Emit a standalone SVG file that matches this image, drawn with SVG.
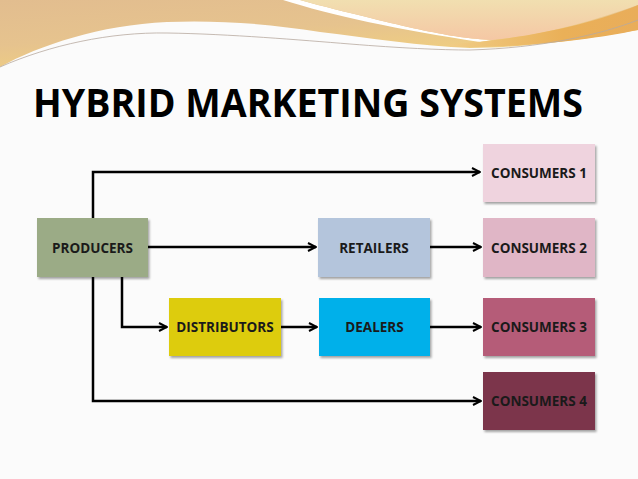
<svg xmlns="http://www.w3.org/2000/svg" width="638" height="479" viewBox="0 0 638 479">
<defs>
<linearGradient id="gL" x1="0" y1="0" x2="0.6" y2="1">
<stop offset="0" stop-color="#e2bd8f"/>
<stop offset="0.5" stop-color="#e6c38e"/>
<stop offset="1" stop-color="#f3d27c"/>
</linearGradient>
<linearGradient id="gR" x1="0" y1="0" x2="0" y2="1">
<stop offset="0" stop-color="#f1dfb0"/>
<stop offset="1" stop-color="#f5c7a4"/>
</linearGradient>
<linearGradient id="gO" x1="0" y1="0" x2="1" y2="0">
<stop offset="0" stop-color="#f0cc85"/>
<stop offset="0.6" stop-color="#eab058"/>
<stop offset="1" stop-color="#e9ad5a"/>
</linearGradient>
<marker id="arr" viewBox="0 0 10 10" refX="9" refY="5" markerWidth="10" markerHeight="10" markerUnits="userSpaceOnUse" orient="auto">
<path d="M1,1 L9,5 L1,9" fill="none" stroke="#000" stroke-width="2"/>
</marker>
<filter id="sh" x="-10%" y="-10%" width="125%" height="130%">
<feDropShadow dx="1.5" dy="2" stdDeviation="1.2" flood-color="#000" flood-opacity="0.35"/>
</filter>
</defs>
<style>
.box{filter:url(#sh)}
.lbl{font-family:"Open Sans","Liberation Sans",Arial,sans-serif;font-weight:bold;font-size:13.5px;fill:#1a1a1a;text-anchor:middle;dominant-baseline:central}
.con{fill:none;stroke:#000;stroke-width:2.5}
</style>
<rect width="638" height="479" fill="#fbfbfb"/>
<g id="background">
<path d="M0,0 H638 V30 C580,40 520,48 470,48 C420,46 370,38 320,32 C270,24 220,20 167,22 C100,25 40,45 0,67 Z" fill="url(#gL)"/>
<path d="M283,0 C330,15 400,30 480,42 L492,40 C450,38 410,28 318,5 L300,0 Z" fill="#ffffff"/>
<path d="M300,0 H638 V5 C590,22 540,36 492,40 C450,38 410,28 318,5 Z" fill="url(#gR)"/>
<path d="M450,44 C520,40 590,25 638,5 V30 C590,40 520,48 450,47 Z" fill="url(#gO)"/>
<path d="M0,67 C50,45 110,32 167,33 C230,34 300,40 350,44 C400,48 440,50 470,50 C540,48 600,35 638,20" fill="none" stroke="#b8aaa0" stroke-width="0.8"/>
</g>
<text x="33" y="117" font-family="'Open Sans','Liberation Sans',Arial,sans-serif" font-weight="bold" font-size="40" fill="#000" textLength="550" lengthAdjust="spacingAndGlyphs">HYBRID MARKETING SYSTEMS</text>
<g id="connectors">
<path class="con" d="M93,218 V172 H480" marker-end="url(#arr)"/>
<path class="con" d="M148,247 H316" marker-end="url(#arr)"/>
<path class="con" d="M430,247 H481" marker-end="url(#arr)"/>
<path class="con" d="M122,277 V327 H167" marker-end="url(#arr)"/>
<path class="con" d="M281,327 H317" marker-end="url(#arr)"/>
<path class="con" d="M430,327 H481" marker-end="url(#arr)"/>
<path class="con" d="M93,277 V401 H481" marker-end="url(#arr)"/>
</g>
<g id="producers"><rect class="box" x="37" y="218" width="111" height="59" fill="#9bab86"/><text class="lbl" x="92.5" y="248">PRODUCERS</text></g>
<g id="retailers"><rect class="box" x="318" y="218" width="112" height="59" fill="#b4c5dc"/><text class="lbl" x="374" y="248">RETAILERS</text></g>
<g id="distributors"><rect class="box" x="169" y="298" width="112" height="58" fill="#ddcc0a"/><text class="lbl" x="225" y="327">DISTRIBUTORS</text></g>
<g id="dealers"><rect class="box" x="319" y="298" width="111" height="58" fill="#00b0ea"/><text class="lbl" x="374.5" y="327">DEALERS</text></g>
<g id="consumers1"><rect class="box" x="483" y="144" width="112" height="58" fill="#efd3de"/><text class="lbl" x="539" y="173">CONSUMERS 1</text></g>
<g id="consumers2"><rect class="box" x="483" y="218" width="112" height="59" fill="#e0b6c6"/><text class="lbl" x="539" y="248">CONSUMERS 2</text></g>
<g id="consumers3"><rect class="box" x="483" y="298" width="112" height="58" fill="#b55b78"/><text class="lbl" x="539" y="327">CONSUMERS 3</text></g>
<g id="consumers4"><rect class="box" x="483" y="372" width="112" height="58" fill="#7b344c"/><text class="lbl" x="539" y="401">CONSUMERS 4</text></g>
</svg>
